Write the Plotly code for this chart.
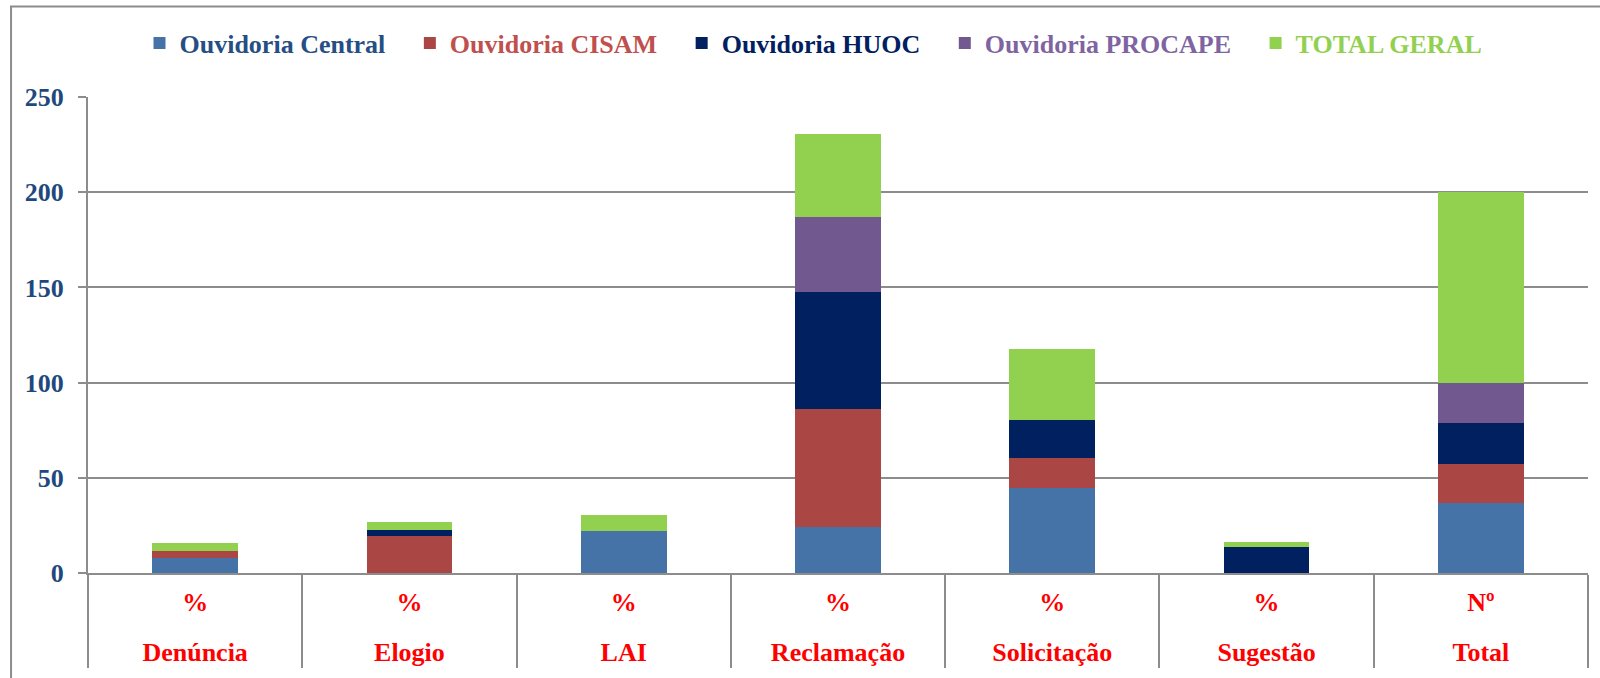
import plotly.graph_objects as go

categories = ["Denúncia", "Elogio", "LAI", "Reclamação", "Solicitação", "Sugestão", "Total"]
units = ["%", "%", "%", "%", "%", "%", "Nº"]

central = [8.0, 0, 22.0, 24.3, 44.6, 0, 37]
cisam = [3.7, 19.2, 0, 61.9, 15.7, 0, 20]
huoc = [0, 3.2, 0, 61.5, 20.1, 13.4, 22]
procape = [0, 0, 0, 39.4, 0, 0, 21]
total_geral = [3.8, 4.5, 8.6, 43.4, 37.4, 3.0, 100]

series = [
    ("Ouvidoria Central", central, "#4572A7", "#254E84"),
    ("Ouvidoria CISAM", cisam, "#AA4643", "#C0504D"),
    ("Ouvidoria HUOC", huoc, "#00205F", "#002060"),
    ("Ouvidoria PROCAPE", procape, "#71588F", "#8064A2"),
    ("TOTAL GERAL", total_geral, "#92D050", "#92D050"),
]

FONT = "Liberation Serif"
LBL = "<span style='font-size:26px'>{}</span>"
# inner level carries an invisible spacer line so the outer level sits lower
outer = [LBL.format(c) for c in categories]
inner = [LBL.format(u) + "<br><span style='font-size:58px'> </span>" for u in units]
x = [outer, inner]

fig = go.Figure()
for name, vals, col, tcol in series:
    fig.add_trace(go.Bar(
        x=x, y=vals,
        name=f"<b><span style='color:{tcol}'>{name}</span></b>&nbsp;&nbsp;&nbsp;",
        marker=dict(color=col, line=dict(width=0)),
    ))

grid = "#8C8C8C"
fig.update_layout(
    barmode="stack",
    bargap=0.6,
    width=1600, height=678,
    margin=dict(l=88, r=12, t=97, b=105, autoexpand=False),
    paper_bgcolor="white",
    plot_bgcolor="white",
    font=dict(family=FONT),
    legend=dict(
        orientation="h",
        x=0.49, xanchor="center",
        y=1.113, yanchor="middle",
        font=dict(family=FONT, size=26),
        itemwidth=30,
        traceorder="normal",
    ),
    yaxis=dict(
        range=[0, 250], dtick=50,
        automargin=False,
        showgrid=True, gridcolor=grid, gridwidth=2,
        showline=True, linecolor=grid, linewidth=2,
        ticks="outside", ticklen=8, tickcolor=grid, tickwidth=2,
        ticklabelstandoff=9,
        tickfont=dict(family=FONT, size=26, color="#1F497D", weight="bold"),
        zeroline=False,
    ),
    xaxis=dict(
        type="multicategory",
        automargin=False,
        showline=True, linecolor=grid, linewidth=2,
        showdividers=True, dividercolor=grid, dividerwidth=2,
        ticklabelstandoff=17,
        tickfont=dict(family=FONT, size=16, color="#FF0000", weight="bold"),
    ),
    shapes=[
        dict(type="rect", xref="paper", yref="paper",
             x0=-0.0513, x1=1.2, y0=-0.5, y1=1.19,
             line=dict(color="#8C8C8C", width=2), fillcolor="rgba(0,0,0,0)",
             layer="below"),
    ],
)

fig.write_html("out.html", config={"displayModeBar": False},
               post_script="document.body.style.margin='0';")
